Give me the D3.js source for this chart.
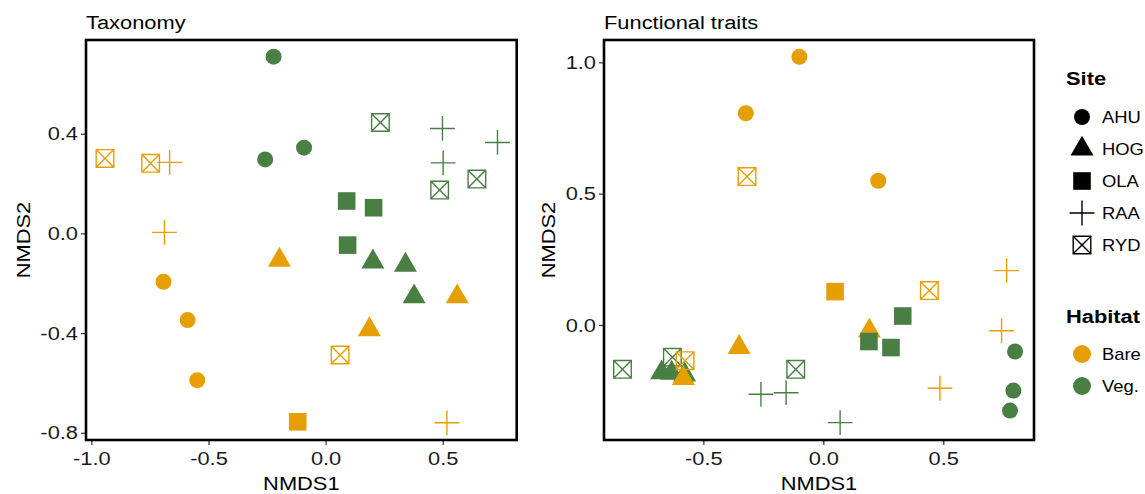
<!DOCTYPE html>
<html>
<head>
<meta charset="utf-8">
<script src="https://cdn.jsdelivr.net/npm/d3@7"></script>
<style>
    body { margin: 0; background: #fff; }
    text { font-family: "Liberation Sans", Arial, sans-serif; }
</style>
</head>
<body>
<svg id="chart" width="1145" height="494"></svg>
<script>
const sites = ['AHU', 'HOG', 'OLA', 'RAA', 'RYD']
const habitats = ['Bare', 'Veg.']
const habitatColors = ['#E69F00', '#4A7F44']

// [site, habitat, NMDS1, NMDS2] - drawn in this order
const taxonomyPoints = [
    ['AHU', 'Veg.', -0.222, 0.709], ['AHU', 'Veg.', -0.258, 0.297], ['AHU', 'Veg.', -0.092, 0.344],
    ['AHU', 'Bare', -0.692, -0.194], ['AHU', 'Bare', -0.589, -0.348], ['AHU', 'Bare', -0.548, -0.589],
    ['HOG', 'Veg.', 0.202, -0.114], ['HOG', 'Veg.', 0.341, -0.127], ['HOG', 'Veg.', 0.378, -0.254],
    ['HOG', 'Bare', -0.197, -0.107], ['HOG', 'Bare', 0.187, -0.386], ['HOG', 'Bare', 0.562, -0.254],
    ['OLA', 'Veg.', 0.090, 0.130], ['OLA', 'Veg.', 0.205, 0.103], ['OLA', 'Veg.', 0.094, -0.047],
    ['OLA', 'Bare', -0.119, -0.756],
    ['RAA', 'Veg.', 0.499, 0.421], ['RAA', 'Veg.', 0.734, 0.365], ['RAA', 'Veg.', 0.502, 0.283],
    ['RAA', 'Bare', -0.666, 0.285], ['RAA', 'Bare', -0.688, 0.004], ['RAA', 'Bare', 0.518, -0.760],
    ['RYD', 'Veg.', 0.234, 0.445], ['RYD', 'Veg.', 0.487, 0.174], ['RYD', 'Veg.', 0.646, 0.218],
    ['RYD', 'Bare', -0.942, 0.301], ['RYD', 'Bare', -0.747, 0.281], ['RYD', 'Bare', 0.062, -0.488]
]

const traitPoints = [
    ['AHU', 'Veg.', 0.799, -0.101], ['AHU', 'Veg.', 0.792, -0.250], ['AHU', 'Veg.', 0.778, -0.326],
    ['AHU', 'Bare', -0.100, 1.021], ['AHU', 'Bare', -0.323, 0.806], ['AHU', 'Bare', 0.229, 0.549],
    ['HOG', 'Veg.', -0.674, -0.182], ['HOG', 'Veg.', -0.632, -0.183], ['HOG', 'Veg.', -0.578, -0.190],
    ['HOG', 'Bare', 0.192, -0.023], ['HOG', 'Bare', -0.351, -0.085], ['HOG', 'Bare', -0.583, -0.203],
    ['OLA', 'Veg.', 0.331, 0.034], ['OLA', 'Veg.', 0.190, -0.063], ['OLA', 'Veg.', 0.282, -0.086],
    ['OLA', 'Bare', 0.049, 0.127],
    ['RAA', 'Veg.', -0.260, -0.264], ['RAA', 'Veg.', -0.155, -0.258], ['RAA', 'Veg.', 0.070, -0.372],
    ['RAA', 'Bare', 0.764, 0.207], ['RAA', 'Bare', 0.743, -0.022], ['RAA', 'Bare', 0.486, -0.241],
    ['RYD', 'Veg.', -0.837, -0.169], ['RYD', 'Veg.', -0.629, -0.123], ['RYD', 'Veg.', -0.115, -0.169],
    ['RYD', 'Bare', -0.318, 0.565], ['RYD', 'Bare', 0.442, 0.131], ['RYD', 'Bare', -0.576, -0.136]
]

const taxXTicks = [-1.0, -0.5, 0.0, 0.5]
const taxYTicks = [-0.8, -0.4, 0.0, 0.4]
const traitXTicks = [-0.5, 0.0, 0.5]
const traitYTicks = [0.0, 0.5, 1.0]

// the original font runs wider than Arial, so stretch text a bit
const stretch = 1.15

const svg = d3.select('#chart')
const color = d3.scaleOrdinal().domain(habitats).range(habitatColors)

// filled shapes vs. line shapes, like R pch 16/17/15/3/7
function shapePath(site) {
    if (site === 'AHU') return d3.symbol(d3.symbolCircle, Math.PI * 8 * 8)()
    if (site === 'HOG') return 'M0,-13.3L11.5,6.6L-11.5,6.6Z'
    if (site === 'OLA') return d3.symbol(d3.symbolSquare, 17.6 * 17.6)()
    if (site === 'RAA') return 'M-12.4,0H12.4M0,-12.4V12.4'
    return 'M-8.8,-8.8H8.8V8.8H-8.8ZM-8.8,-8.8L8.8,8.8M8.8,-8.8L-8.8,8.8'
}
const isFilled = site => ['AHU', 'HOG', 'OLA'].includes(site)

function drawShape(sel, site, fill) {
    sel.attr('d', shapePath(site))
    if (isFilled(site)) {
        sel.style('fill', fill).style('stroke', 'none')
    } else {
        sel.style('fill', 'none').style('stroke', fill).style('stroke-width', 1.4)
    }
}

function addText(parent, x, y, str, size, extra) {
    return parent.append('text')
        .attr('transform', `translate(${x},${y})${extra || ''} scale(${stretch},1)`)
        .style('font-size', size + 'px')
        .text(str)
}

function drawPanel(opts) {
    const box = opts.box
    const x = d3.scaleLinear().domain(opts.xDomain).range([box.left, box.right])
    const y = d3.scaleLinear().domain(opts.yDomain).range([box.bottom, box.top])
    const g = svg.append('g')

    g.append('g')
        .selectAll('path')
        .data(opts.points)
        .join('path')
        .attr('transform', d => `translate(${x(d[2])},${y(d[3])})`)
        .each(function (d) { drawShape(d3.select(this), d[0], color(d[1])) })

    const fmt = d => d.toFixed(1)

    const xAxis = g.append('g')
        .attr('transform', `translate(0,${box.bottom})`)
        .call(d3.axisBottom(x).tickValues(opts.xTicks).tickFormat(fmt).tickSize(5).tickPadding(7))
    const yAxis = g.append('g')
        .attr('transform', `translate(${box.left},0)`)
        .call(d3.axisLeft(y).tickValues(opts.yTicks).tickFormat(fmt).tickSize(5).tickPadding(3))

    ;[xAxis, yAxis].forEach(a => {
        a.select('.domain').remove()
        a.selectAll('line').style('stroke', '#333').style('stroke-width', 1.2)
        a.selectAll('text')
            .style('font-size', '19px')
            .style('fill', '#1a1a1a')
            .style('font-family', '"Liberation Sans", Arial, sans-serif')
            .attr('x', function () { return (+d3.select(this).attr('x') || 0) / stretch })
            .attr('transform', `scale(${stretch},1)`)
    })

    g.append('rect')
        .attr('x', box.left)
        .attr('y', box.top)
        .attr('width', box.right - box.left)
        .attr('height', box.bottom - box.top)
        .style('fill', 'none')
        .style('stroke', '#000')
        .style('stroke-width', 2.6)

    addText(g, box.left, 29, opts.title, 19)

    addText(g, (box.left + box.right) / 2, 490, 'NMDS1', 19)
        .attr('text-anchor', 'middle')

    addText(g, opts.yTitleX, (box.top + box.bottom) / 2, 'NMDS2', 19, ' rotate(-90)')
        .attr('text-anchor', 'middle')
}

drawPanel({
    title: 'Taxonomy',
    points: taxonomyPoints,
    box: { left: 86, right: 516.7, top: 40, bottom: 440 },
    xDomain: [-1.023, 0.816],
    yDomain: [-0.829, 0.776],
    xTicks: taxXTicks,
    yTicks: taxYTicks,
    yTitleX: 30
})

drawPanel({
    title: 'Functional traits',
    points: traitPoints,
    box: { left: 604, right: 1034, top: 40, bottom: 440 },
    xDomain: [-0.914, 0.878],
    yDomain: [-0.438, 1.085],
    xTicks: traitXTicks,
    yTicks: traitYTicks,
    yTitleX: 555
})

// legends
const legend = svg.append('g')

addText(legend, 1066, 85, 'Site', 19).style('font-weight', 'bold')

const siteY = d3.scalePoint().domain(sites).range([117, 245])

const siteItems = legend.selectAll('.site-item')
    .data(sites)
    .join('g')
    .attr('class', 'site-item')
    .attr('transform', d => `translate(1082,${siteY(d)})`)

siteItems.append('path')
    .each(function (d) { drawShape(d3.select(this), d, '#000') })

siteItems.append('text')
    .attr('transform', `translate(20,0) scale(${stretch},1)`)
    .attr('dy', '0.36em')
    .style('font-size', '16px')
    .text(d => d)

addText(legend, 1066, 323, 'Habitat', 19).style('font-weight', 'bold')

const habY = d3.scalePoint().domain(habitats).range([354, 386])

const habItems = legend.selectAll('.hab-item')
    .data(habitats)
    .join('g')
    .attr('class', 'hab-item')
    .attr('transform', d => `translate(1082,${habY(d)})`)

habItems.append('path')
    .attr('d', d3.symbol(d3.symbolCircle, Math.PI * 9 * 9)())
    .style('fill', d => color(d))

habItems.append('text')
    .attr('transform', `translate(20,0) scale(${stretch},1)`)
    .attr('dy', '0.36em')
    .style('font-size', '16px')
    .text(d => d)
</script>
</body>
</html>
